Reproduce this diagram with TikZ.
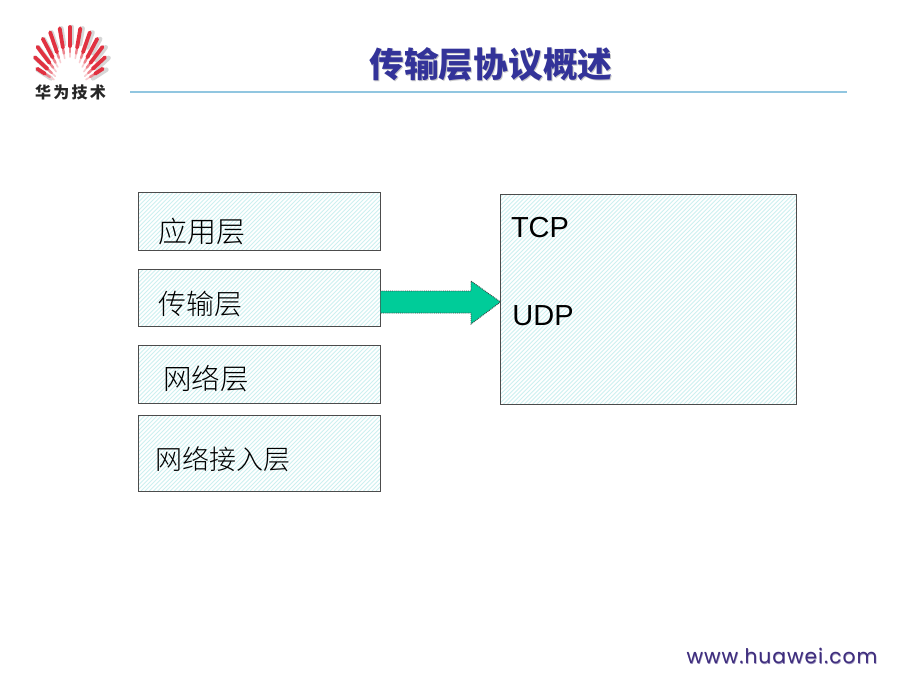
\documentclass[tikz,border=0pt]{standalone}
\usepackage{fontspec}
\setmainfont{Liberation Sans}
\newfontfamily\cjk{Noto Sans CJK SC}
\newfontfamily\cjklight[UprightFont=* Light]{Noto Sans CJK SC}
\newfontfamily\webfont[LetterSpace=5]{Poppins}
\usetikzlibrary{calc}
\definecolor{titleblue}{RGB}{51,51,153}
\definecolor{hatchc}{RGB}{205,240,240}
\definecolor{arrowgreen}{RGB}{0,204,153}
\definecolor{rulec}{RGB}{145,198,224}
\definecolor{logored}{RGB}{225,50,65}
\definecolor{webc}{RGB}{62,45,125}
\newcommand{\hatchlines}{%
  \foreach \d in {0,4.2,...,700}{
    \draw[hatchc,line width=0.9pt] ([xshift=\d pt]path picture bounding box.south west) ++(-300,0) -- ++(300,-300);
  }}
\tikzset{
  x=1pt,y=-1pt,
  layerbox/.style={draw=black!70,line width=1pt,anchor=north west,inner sep=0pt,outer sep=0pt,
    path picture={\hatchlines}},
  cjklabel/.style={font=\cjklight\fontsize{#1}{30}\selectfont,anchor=center,inner sep=0pt,text=black},
  cjklabel/.default=28,
  latinlabel/.style={font=\fontsize{29}{30}\selectfont,anchor=center,inner sep=0pt,text=black},
}
\begin{document}
\begin{tikzpicture}
\useasboundingbox (0,0) rectangle (900,675);
\fill[white] (0,0) rectangle (900,675);
% logo
\coordinate (fan) at (70,90);
\foreach \a/\r/\l in {-57/24/41,-47/25/50,-37/28/56,-28/31/60,-19/34/63,-9.5/37/64.5,0/38/65,9.5/37/64.5,19/34/63,28/31/60,37/28/56,47/25/50,57/24/41}{
  \draw[line cap=round,line width=4.5pt,black!16] ($(fan)+({sin(\a)*(\l-16)+2},{-cos(\a)*(\l-16)+2})$) -- ($(fan)+({sin(\a)*\l+2},{-cos(\a)*\l+2})$);
}
\foreach \a/\r/\l in {-57/24/41,-47/25/50,-37/28/56,-28/31/60,-19/34/63,-9.5/37/64.5,0/38/65,9.5/37/64.5,19/34/63,28/31/60,37/28/56,47/25/50,57/24/41}{
  \draw[line cap=round,line width=1.6pt,logored!25] ($(fan)+({sin(\a)*(\r-5)},{-cos(\a)*(\r-5)})$) -- ($(fan)+({sin(\a)*\r},{-cos(\a)*\r})$);
  \draw[line cap=round,line width=2.4pt,logored!60] ($(fan)+({sin(\a)*\r},{-cos(\a)*\r})$) -- ($(fan)+({sin(\a)*(\r+6)},{-cos(\a)*(\r+6)})$);
  \draw[line cap=round,line width=3.8pt,logored] ($(fan)+({sin(\a)*(\r+6)},{-cos(\a)*(\r+6)})$) -- ($(fan)+({sin(\a)*(\l-2)},{-cos(\a)*(\l-2)})$);
}
\node[font=\cjk\bfseries\fontsize{16}{18}\selectfont\addfontfeature{LetterSpace=14},text=black!85,inner sep=0pt] (logotext) at (70.5,92) {华为技术};
% title
\node[font=\cjk\bfseries\fontsize{34.7}{36}\selectfont,text=black!22,inner sep=0pt] (titleshadow) at (492,65.5) {传输层协议概述};
\node[font=\cjk\bfseries\fontsize{34.7}{36}\selectfont,text=titleblue,inner sep=0pt] (title) at (491,64.5) {传输层协议概述};
\draw[rulec,line width=2.8pt] (130,92) -- (847,92);
% boxes
\node[layerbox,minimum width=242pt,minimum height=57.5pt] (app) at (138.5,192.5) {};
\node[layerbox,minimum width=242pt,minimum height=57.5pt] (trans) at (138.5,269) {};
\node[layerbox,minimum width=242pt,minimum height=57.5pt] (net) at (138.5,345.5) {};
\node[layerbox,minimum width=242pt,minimum height=75.5pt] (access) at (138.5,415.5) {};
\node[layerbox,minimum width=296pt,minimum height=210pt] (proto) at (500.5,194.5) {};
\node[cjklabel=29] (l1) at (201.5,232) {应用层};
\node[cjklabel] (l2) at (200.5,304) {传输层};
\node[cjklabel=28.5] (l3) at (206,379) {网络层};
\node[cjklabel=27] (l4) at (222.5,459) {网络接入层};
\node[latinlabel] (tcp) at (540,228) {TCP};
\node[latinlabel] (udp) at (543,316) {UDP};
% arrow
\coordinate (as) at (trans.east);
\coordinate (at) at (proto.west);
\path (as |- 0,291) coordinate (a1) (as |- 0,313) coordinate (a2) (at |- 0,302) coordinate (tip);
\fill[arrowgreen] (a1) -- (471,291) -- (471,281) -- (tip) -- (471,324) -- (471,313) -- (a2) -- cycle;
\draw[black!75,densely dotted,line width=0.9pt] (a1) -- (471,291) -- (471,281) -- (tip) -- (471,324) -- (471,313) -- (a2);
% footer
\node[font=\webfont\fontsize{20.2}{24}\selectfont,text=webc!55,inner sep=0pt] (webshadow) at (782.5,656.5) {www.huawei.com};
\node[font=\webfont\fontsize{20.2}{24}\selectfont,text=webc,inner sep=0pt] (web) at (782,655.5) {www.huawei.com};
\end{tikzpicture}
\end{document}
